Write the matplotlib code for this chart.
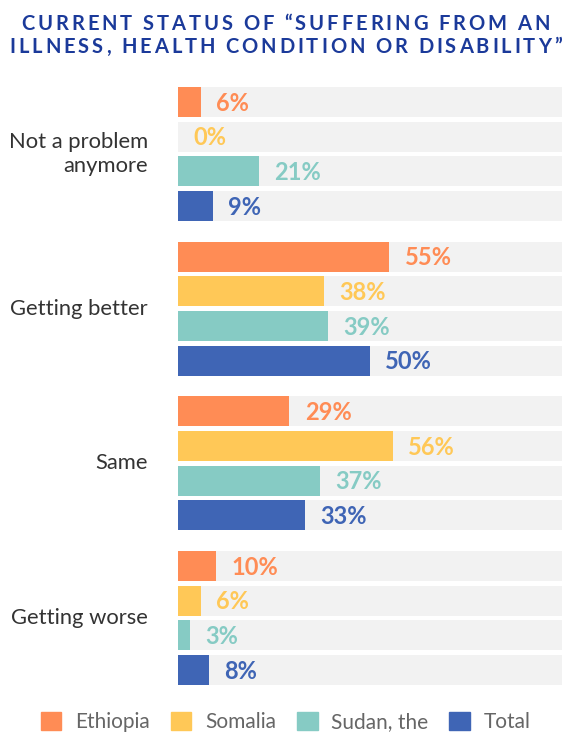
import numpy as np
import matplotlib.pyplot as plt
from matplotlib.patches import Patch
from matplotlib.font_manager import FontProperties

categories = ["Not a problem\nanymore", "Getting better", "Same", "Getting worse"]
series = ["Ethiopia", "Somalia", "Sudan, the", "Total"]
ethiopia = [6, 55, 29, 10]
somalia = [0, 38, 56, 6]
sudan = [21, 39, 37, 3]
total = [9, 50, 33, 8]
values = [ethiopia, somalia, sudan, total]
colors = ["#FF8C55", "#FFC857", "#86CBC4", "#3F65B5"]
title_lines = ["CURRENT STATUS OF “SUFFERING FROM AN",
               "ILLNESS, HEALTH CONDITION OR DISABILITY”"]

plt.rcParams['font.family'] = ['Lato', 'DejaVu Sans']

fig = plt.figure(figsize=(5.71, 7.33), dpi=100)
W, H = 571, 733
ax = fig.add_axes([178 / W, 1 - 685 / H, 384 / W, 598 / H])

gap = 4.46   # group pitch in bar pitches
bh = 0.865   # bar height
for i, cat in enumerate(categories):
    for j, vals in enumerate(values):
        y = i * gap + j
        ax.barh(y, 100, height=bh, color="#F2F2F2", zorder=1)
        ax.barh(y, vals[i], height=bh, color=colors[j], zorder=2)
        ax.text(vals[i] + 4, y + 0.03, f"{vals[i]}%", va="center", ha="left",
                color=colors[j], fontsize=17, fontweight="bold", zorder=3)
    ax.text(-7.8, i * gap + 1.5, cat, ha="right", va="center",
            fontsize=15.8, color="#333333", linespacing=1.2)

ax.set_xlim(0, 100)
ax.set_ylim(3 * gap + 3 + bh / 2, -bh / 2)
ax.axis("off")

# title with letter spacing, drawn char by char
renderer = fig.canvas.get_renderer()
fp = FontProperties(family=['Lato', 'DejaVu Sans'], weight="bold", size=14.5)

def prefix_w(s):
    if not s:
        return 0.0
    return renderer.get_text_width_height_descent(s.replace(" ", "\u00a0"), fp, ismath=False)[0]

natural = prefix_w(title_lines[0])
spacing = (528 - natural) / (len(title_lines[0]) - 1)
for line, yp in zip(title_lines, [30, 53]):
    total_w = prefix_w(line) + spacing * (len(line) - 1)
    x0 = (W - total_w) / 2
    for k, ch in enumerate(line):
        if ch == " ":
            continue
        xp = x0 + prefix_w(line[:k]) + spacing * k
        fig.text(xp / W, 1 - yp / H, ch, ha="left", va="baseline",
                 fontproperties=fp, color="#1B3A9A")

handles = [Patch(color=c, label=s) for c, s in zip(colors, series)]
fig.legend(handles=handles, loc="center", bbox_to_anchor=(0.5, 1 - 722 / H),
           ncol=4, frameon=False, fontsize=15, handlelength=1.0, handleheight=1.0,
           handletextpad=0.65, columnspacing=1.0, labelcolor="#666666")

fig.savefig("out.png", dpi=100)
